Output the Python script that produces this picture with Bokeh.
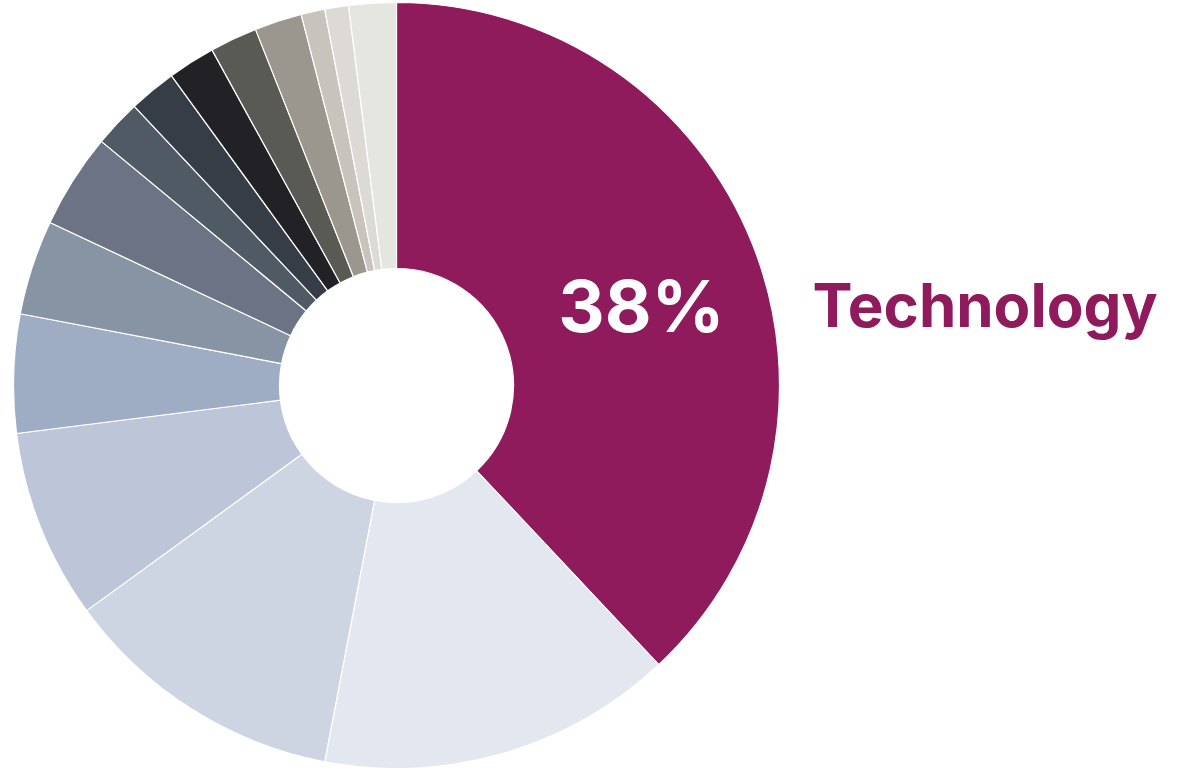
import math
from bokeh.plotting import figure
from bokeh.models import ColumnDataSource, Range1d
from bokeh.core.properties import value
from bokeh.embed import file_html
from bokeh.resources import INLINE

# Data (percent shares, clockwise from 12 o'clock)
sectors = ["Technology", "Sector 2", "Sector 3", "Sector 4", "Sector 5", "Sector 6",
           "Sector 7", "Sector 8", "Sector 9", "Sector 10", "Sector 11", "Sector 12",
           "Sector 13", "Sector 14", "Sector 15"]
shares = [38, 15, 12, 8, 5, 4, 4, 2, 2, 2, 2, 2, 1, 1, 2]
colors = ["#8F1A5C", "#E3E7F0", "#CDD4E2", "#BCC6D8", "#9FADC4", "#8794A4",
          "#6B7384", "#4F5A64", "#373D46", "#222226", "#5A5A54", "#9C978E",
          "#C8C3BC", "#DDD9D5", "#E6E6E0"]
highlight_label = "Technology"
highlight_pct = "38%"

W, H = 1162, 768
cx, cy = 396, 383
r_out, r_in = 383, 117

total = float(sum(shares))
starts, ends = [], []
acc = 0.0
for s in shares:
    starts.append(math.pi / 2 - 2 * math.pi * acc / total)
    acc += s
    ends.append(math.pi / 2 - 2 * math.pi * acc / total)

src = ColumnDataSource(dict(sector=sectors, share=shares, color=colors,
                            start=starts, end=ends,
                            x=[cx] * len(shares), y=[cy] * len(shares)))

p = figure(width=W, height=H, output_backend="svg", toolbar_location=None,
           x_range=Range1d(0, W), y_range=Range1d(0, H),
           min_border=0, outline_line_color=None)
p.axis.visible = False
p.grid.visible = False
p.background_fill_color = "white"
p.border_fill_color = "white"

p.annular_wedge(x="x", y="y", inner_radius=r_in, outer_radius=r_out,
                start_angle="start", end_angle="end", direction="clock",
                fill_color="color", line_color="white", line_width=1.2, source=src)

p.text(x=[641], y=[463], text=[highlight_pct], text_color="white",
       text_font=value("Inter"), text_font_style="bold", text_font_size="72px",
       text_align="center", text_baseline="middle")
p.text(x=[812], y=[464], text=[highlight_label], text_color="#8F1A5C",
       text_font=value("Inter"), text_font_style="bold", text_font_size="60px",
       text_align="left", text_baseline="alphabetic")

open("out.html", "w").write(file_html(p, INLINE))
